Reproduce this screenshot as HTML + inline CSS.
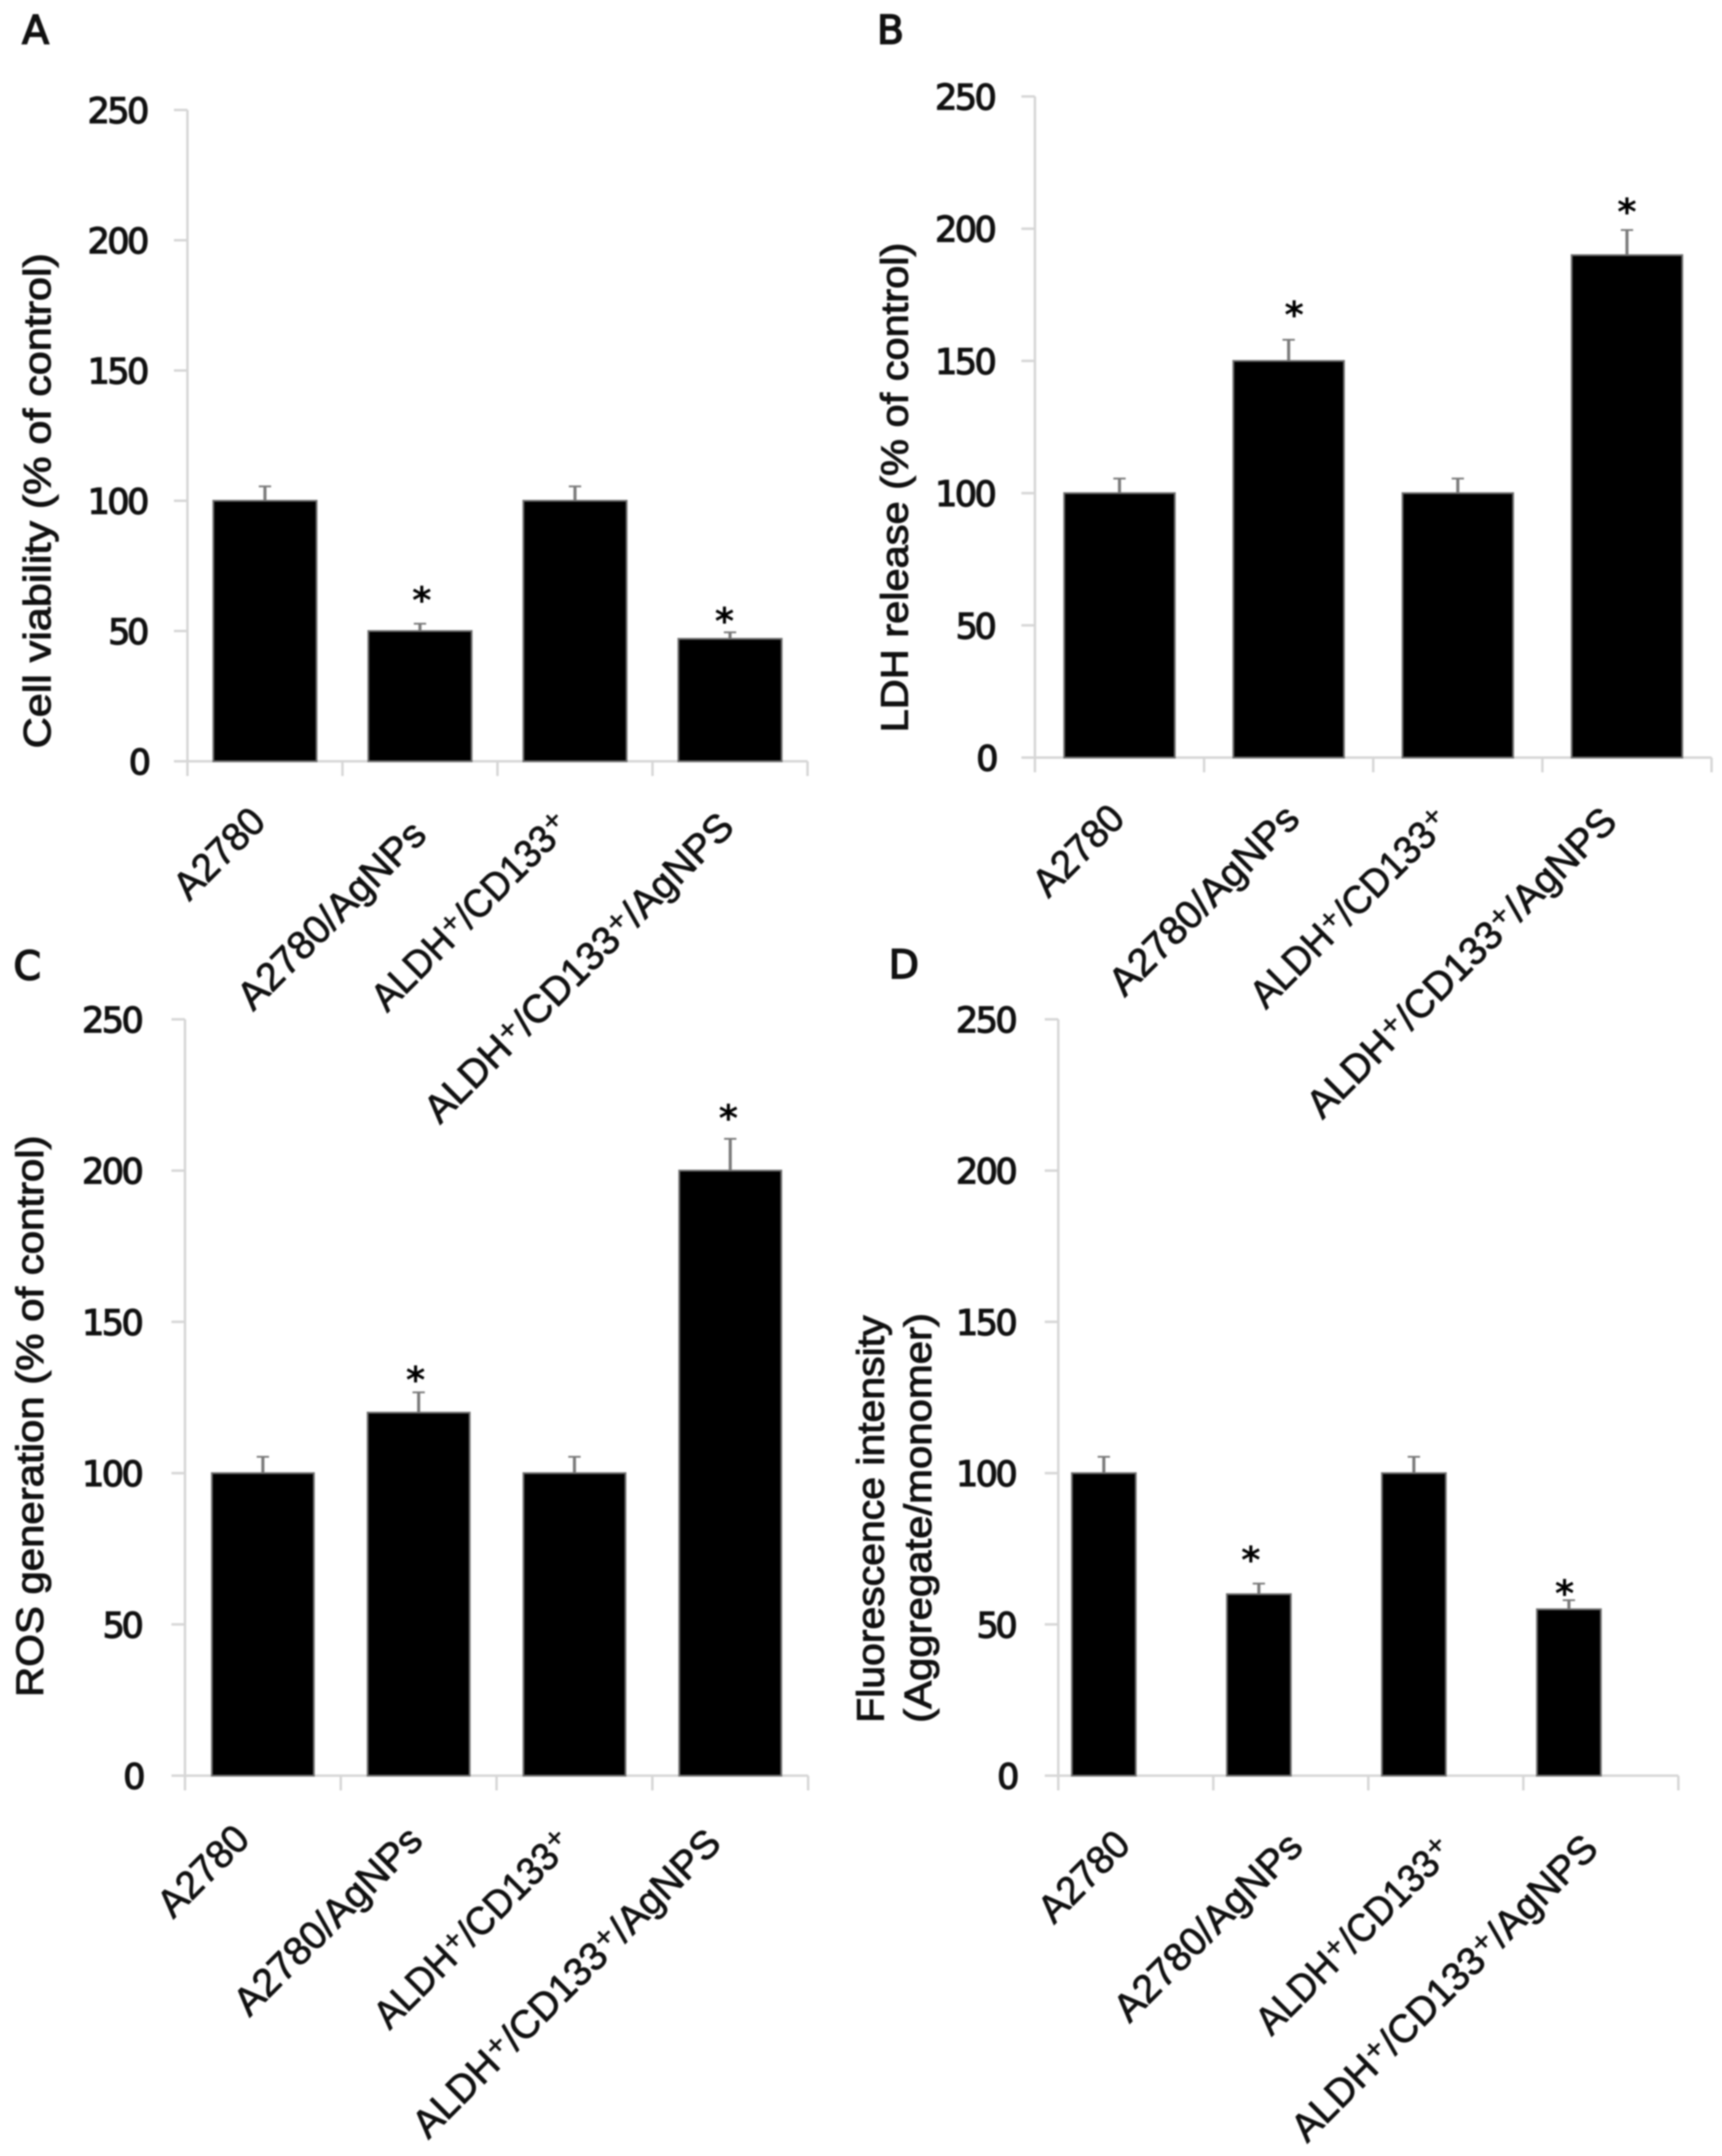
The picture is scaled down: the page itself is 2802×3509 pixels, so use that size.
<!DOCTYPE html>
<html lang="en">
<head>
<meta charset="utf-8">
<title>AgNP effects on A2780 and ALDH+/CD133+ cells</title>
<style>
  html, body { margin: 0; padding: 0; background: #fff; }
  #figure { display: block; width: 2802px; height: 3509px; filter: blur(1.2px); }
  .panel-letter { font-family: "DejaVu Sans", sans-serif; font-size: 64px; fill: #111; stroke: #111; stroke-width: 2.5px; }
  .y-title { font-family: "Liberation Sans", sans-serif; font-size: 62px; fill: #111; stroke: #111; stroke-width: 1.6px; }
  .y-tick-label { font-family: "DejaVu Sans", sans-serif; font-size: 57px; fill: #111; stroke: #111; stroke-width: 2px; }
  .x-tick-label { font-family: "Liberation Sans", "DejaVu Sans", sans-serif; font-size: 64px; fill: #111; stroke: #111; stroke-width: 1.3px; }
  .star { font-family: "DejaVu Sans", sans-serif; font-size: 60px; font-weight: 700; fill: #000; }
</style>
</head>
<body>
<svg id="figure" xmlns="http://www.w3.org/2000/svg" width="2802" height="3509" viewBox="0 0 2802 3509">
  <rect width="2802" height="3509" fill="#ffffff"></rect>

  <g id="panel-a">
    <text class="panel-letter" x="36" y="71">A</text>
    <text class="y-title" transform="translate(82,1218) rotate(-90)" textLength="806" lengthAdjust="spacingAndGlyphs">Cell viability (% of control)</text>
  </g>

  <g id="panel-b">
    <text class="panel-letter" x="1427" y="71">B</text>
    <text class="y-title" transform="translate(1477,1192) rotate(-90)" textLength="797" lengthAdjust="spacingAndGlyphs">LDH release (% of control)</text>
  </g>

  <g id="panel-c">
    <text class="panel-letter" x="22" y="1594">C</text>
    <text class="y-title" transform="translate(70,2762) rotate(-90)" textLength="914" lengthAdjust="spacingAndGlyphs">ROS generation (% of control)</text>
  </g>

  <g id="panel-d">
    <text class="panel-letter" x="1446" y="1592">D</text>
    <text class="y-title" transform="translate(1438,2804) rotate(-90)" textLength="663" lengthAdjust="spacingAndGlyphs">Fluorescence intensity</text>
    <text class="y-title" transform="translate(1515,2804) rotate(-90)" textLength="667" lengthAdjust="spacingAndGlyphs">(Aggregate/monomer)</text>
  </g>
</svg>

<script>
// Chart data
const categories = ['A2780', 'A2780/AgNPs', 'ALDH\u207A/CD133\u207A', 'ALDH\u207A/CD133\u207A/AgNPS'];
const yTickValues = [0, 50, 100, 150, 200, 250];
const yMaximum = 250;

const panelAValues = [100, 50, 100, 47];
const panelAErrors = [5.5, 2.8, 5.5, 2.5];
const panelAStarLevels = [null, 65, null, 57];

const panelBValues = [100, 150, 100, 190];
const panelBErrors = [5.5, 8, 5.5, 9.5];
const panelBStarLevels = [null, 170.5, null, 209.5];

const panelCValues = [100, 120, 100, 200];
const panelCErrors = [5.4, 6.7, 5.4, 10.5];
const panelCStarLevels = [null, 133.5, null, 220];

const panelDValues = [100, 60, 100, 55];
const panelDErrors = [5.4, 3.5, 5.4, 3];
const panelDStarLevels = [null, 74, null, 63];

// Layout (frame of each panel, independent of the data)
const panelFrames = {
  a: { left: 305, right: 1314, top: 179, bottom: 1239, barWidth: 168, barShift: 0, tickRight: 243,
       starShift: [0, 3, 0, -9],
       labelStarts: [[308, 1468], [412, 1647], [630, 1649], [716, 1831]],
       labelLengths: [180, 403, 427, 681] },
  b: { left: 1684, right: 2785, top: 157, bottom: 1233, barWidth: 180, barShift: 0, tickRight: 1622,
       starShift: [0, 9, 0, 0],
       labelStarts: [[1706, 1463], [1830, 1624], [2060, 1644], [2152, 1823]],
       labelLengths: [180, 407, 429, 682] },
  c: { left: 301, right: 1315, top: 1659, bottom: 2890, barWidth: 166, barShift: 0, tickRight: 234,
       starShift: [0, -5, 0, -3],
       labelStarts: [[282, 3124], [406, 3284], [634, 3305], [697, 3483]],
       labelLengths: [180, 403, 427, 678] },
  d: { left: 1722, right: 2731, top: 1659, bottom: 2890, barWidth: 104, barShift: -52, tickRight: 1656,
       starShift: [0, -13, 0, -7],
       labelStarts: [[1715, 3133], [1838, 3294], [2069, 3315], [2127, 3489]],
       labelLengths: [180, 403, 424, 674] }
};

const SVG_NS = 'http://www.w3.org/2000/svg';
const AXIS_COLOR = '#d6d6d6';
const ERROR_COLOR = '#7a7a7a';

function makeLine(parent, x1, y1, x2, y2, color, width) {
  const el = document.createElementNS(SVG_NS, 'line');
  el.setAttribute('x1', x1);
  el.setAttribute('y1', y1);
  el.setAttribute('x2', x2);
  el.setAttribute('y2', y2);
  el.setAttribute('stroke', color);
  el.setAttribute('stroke-width', width);
  parent.appendChild(el);
  return el;
}

function drawPanel(groupId, key, values, errors, starLevels) {
  const frame = panelFrames[key];
  const group = document.getElementById(groupId);
  const yScale = function (v) {
    return frame.bottom - (v / yMaximum) * (frame.bottom - frame.top);
  };
  const band = (frame.right - frame.left) / categories.length;
  const xCenter = function (i) {
    return frame.left + band * (i + 0.5) + frame.barShift;
  };

  // axes
  const yAxis = makeLine(group, frame.left, frame.top, frame.left, frame.bottom + 24, AXIS_COLOR, 4);
  
  
  const xAxis = makeLine(group, frame.left - 22, frame.bottom, frame.right, frame.bottom, AXIS_COLOR, 4);
  
  

  // y ticks + labels
  yTickValues.forEach(function (tick) {
    const y = yScale(tick);
    const tickLine = makeLine(group, frame.left - 22, y, frame.left, y, AXIS_COLOR, 4);
    
    

    const label = document.createElementNS(SVG_NS, 'text');
    label.setAttribute('class', 'y-tick-label');
    const text = String(tick);
    label.setAttribute('x', frame.tickRight - text.length * 33.5);
    label.setAttribute('y', y + 21);
    label.setAttribute('textLength', text.length * 33.5);
    label.setAttribute('lengthAdjust', 'spacing');
    label.textContent = text;
    
    
    group.appendChild(label);
  });

  // x ticks
  for (let t = 0; t <= categories.length; t++) {
    const tx = frame.left + band * t;
    const xTick = makeLine(group, tx, frame.bottom, tx, frame.bottom + 24, AXIS_COLOR, 4);
    
    
  }

  // bars, error bars, stars, category labels
  categories.forEach(function (category, i) {
    const cx = xCenter(i);
    const topY = yScale(values[i]);
    const errTop = yScale(values[i] + errors[i]);

    const stem = makeLine(group, cx, topY, cx, errTop, ERROR_COLOR, 5);
    
    
    const cap = makeLine(group, cx - 10, errTop, cx + 10, errTop, ERROR_COLOR, 3);
    
    

    const bar = document.createElementNS(SVG_NS, 'rect');
    bar.setAttribute('x', cx - frame.barWidth / 2);
    bar.setAttribute('y', topY);
    bar.setAttribute('width', frame.barWidth);
    bar.setAttribute('height', frame.bottom - topY);
    bar.setAttribute('fill', '#000000');
    bar.setAttribute('stroke', '#6f6f6f');
    bar.setAttribute('stroke-width', 3);
    
    
    group.appendChild(bar);

    if (starLevels[i] !== null) {
      const star = document.createElementNS(SVG_NS, 'text');
      star.setAttribute('class', 'star');
      star.setAttribute('text-anchor', 'middle');
      star.setAttribute('x', cx + frame.starShift[i]);
      star.setAttribute('y', yScale(starLevels[i]) + 34);
      star.textContent = '*';
      
      
      group.appendChild(star);
    }

    const start = frame.labelStarts[i];
    const label = document.createElementNS(SVG_NS, 'text');
    label.setAttribute('class', 'x-tick-label');
    label.setAttribute('transform', 'translate(' + start[0] + ',' + start[1] + ') rotate(-45)');
    label.setAttribute('textLength', frame.labelLengths[i]);
    label.setAttribute('lengthAdjust', 'spacingAndGlyphs');
    label.textContent = category;
    
    
    group.appendChild(label);
  });
}

drawPanel('panel-a', 'a', panelAValues, panelAErrors, panelAStarLevels);
drawPanel('panel-b', 'b', panelBValues, panelBErrors, panelBStarLevels);
drawPanel('panel-c', 'c', panelCValues, panelCErrors, panelCStarLevels);
drawPanel('panel-d', 'd', panelDValues, panelDErrors, panelDStarLevels);
</script>
</body>
</html>
